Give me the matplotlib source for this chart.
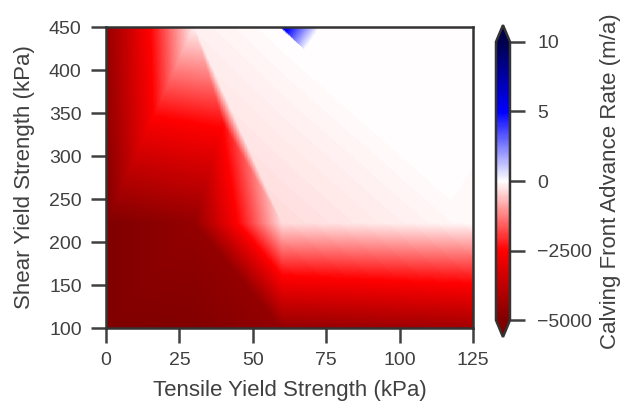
import numpy as np
import matplotlib.pyplot as plt
import matplotlib.tri as mtri
from matplotlib.colors import TwoSlopeNorm
import seaborn as sns

sns.set_theme(style='ticks')
plt.rcParams['font.family'] = ['Liberation Sans', 'DejaVu Sans']

# sampled runs: tensile / shear yield strength (kPa) and resulting advance rate (m/a)
tensile = [0, 30, 60, 125,
           0, 30, 60, 125,
           0, 15, 40,
           0, 15, 30, 60, 125]
shear = [100, 100, 100, 100,
         222, 222, 222, 222,
         337, 337, 337,
         450, 450, 450, 450, 450]
rate = [-5000, -4950, -4600, -4300,
        -5000, -4600, -350, -45,
        -4700, -2700, -2400,
        -4600, -2500, -150, 6, -24]

# mesh connectivity between the runs
triangles = [(0, 1, 5), (0, 5, 4), (1, 2, 5), (2, 6, 5), (2, 3, 7), (2, 7, 6),
             (4, 5, 9), (4, 9, 8), (5, 10, 9), (5, 6, 10), (10, 6, 13),
             (9, 10, 13), (9, 13, 12), (8, 9, 12), (8, 12, 11),
             (6, 14, 13), (6, 7, 14), (7, 15, 14)]

tri = mtri.Triangulation(tensile, shear, triangles)
interp = mtri.LinearTriInterpolator(tri, np.array(rate, dtype=float))
xi = np.linspace(0, 125, 600)
yi = np.linspace(100, 450, 600)
XI, YI = np.meshgrid(xi, yi)
ZI = interp(XI, YI)

fig = plt.figure(figsize=(6.21, 4.05), dpi=100)
ax = fig.add_axes([0.1707, 0.1901, 0.591, 0.7432])
norm = TwoSlopeNorm(vmin=-5000, vcenter=0, vmax=10)
mesh = ax.pcolormesh(XI, YI, ZI, cmap='seismic_r', norm=norm, shading='auto', rasterized=True)

ax.set_xlim(0, 125)
ax.set_ylim(100, 450)
ax.set_xticks([0, 25, 50, 75, 100, 125])
ax.set_yticks([100, 150, 200, 250, 300, 350, 400, 450])
ax.set_xlabel('Tensile Yield Strength (kPa)', fontsize=16, labelpad=8)
ax.set_ylabel('Shear Yield Strength (kPa)', fontsize=16, labelpad=10)
ax.tick_params(labelsize=14, length=10.5, width=1.8, pad=7, colors='.25')
for s in ax.spines.values():
    s.set_linewidth(1.8)
    s.set_color('.2')

cax = fig.add_axes([0.7987, 0.168, 0.0225, 0.770])
cb = fig.colorbar(mesh, cax=cax, extend='both', extendfrac=0.06)
cb.set_ticks([-5000, -2500, 0, 5, 10])
cb.set_label('Calving Front Advance Rate (m/a)', fontsize=16, labelpad=6, color='.25')
cb.ax.tick_params(labelsize=14, length=10.5, width=1.8, pad=9, colors='.25')
cb.outline.set_linewidth(1.8)
cb.outline.set_edgecolor('.2')
ax.xaxis.label.set_color('.25')
ax.yaxis.label.set_color('.25')

fig.savefig('out.png', dpi=100)
